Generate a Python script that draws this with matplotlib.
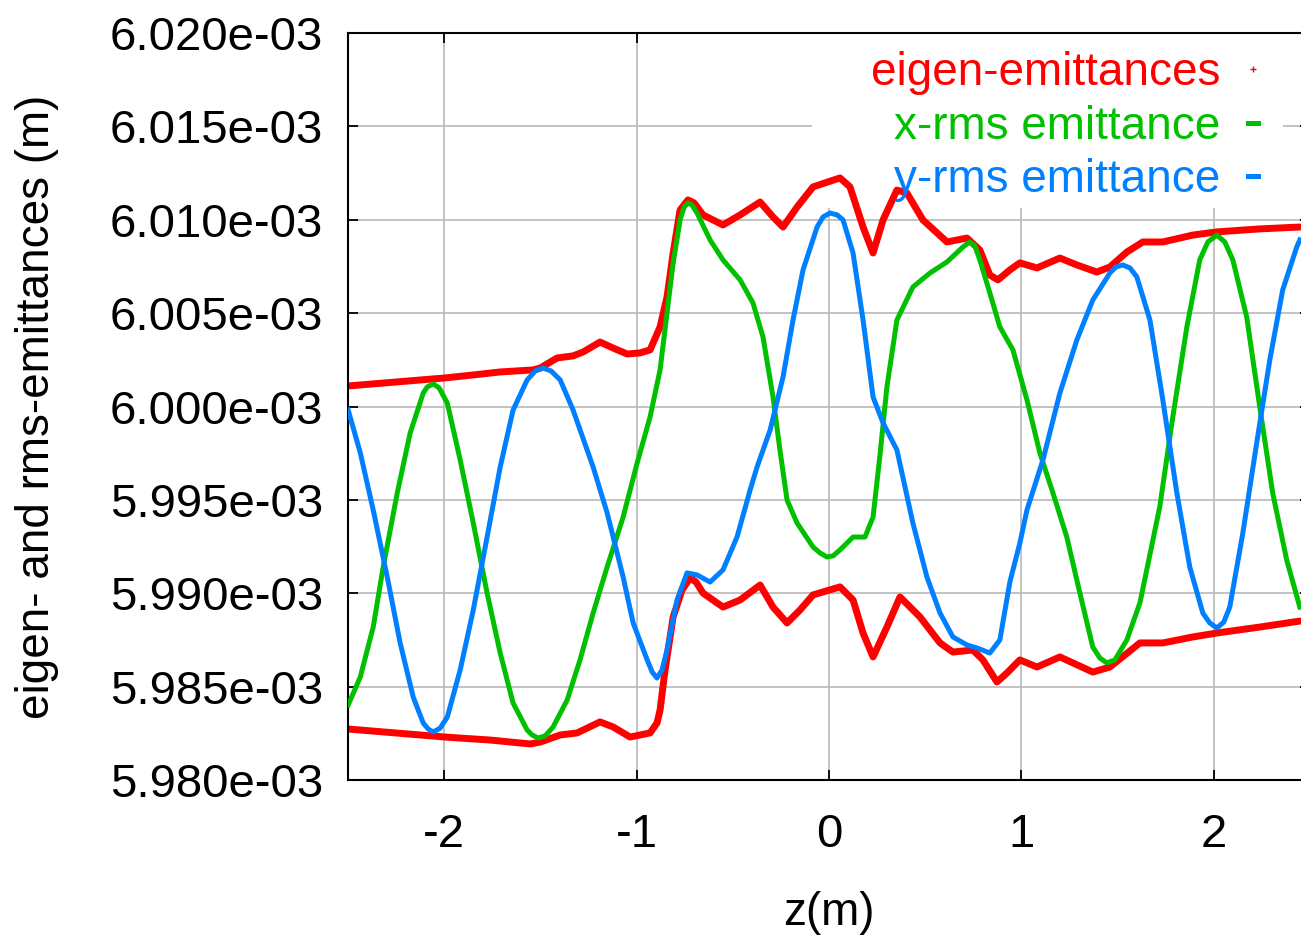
import numpy as np
import matplotlib
matplotlib.use("Agg")
import matplotlib.pyplot as plt
from matplotlib.lines import Line2D
from matplotlib.patches import Rectangle
from matplotlib.ticker import FormatStrFormatter

plt.rcParams['font.family'] = ['Liberation Sans', 'DejaVu Sans']
plt.rcParams['axes.unicode_minus'] = False

# ---- data (emittance values in units of 1e-3 m) ----
z_eig_hi = [-2.499, -1.995, -1.849, -1.709, -1.538, -1.501, -1.413, -1.330, -1.278, -1.190,
            -1.122, -1.049, -0.982, -0.930, -0.878, -0.842, -0.810, -0.774, -0.733, -0.701, -0.655,
            -0.551, -0.462, -0.358, -0.291, -0.239, -0.166, -0.083, 0.057, 0.109, 0.177,
            0.229, 0.281, 0.353, 0.405, 0.488, 0.613, 0.717, 0.784, 0.836, 0.878,
            0.940, 0.992, 1.081, 1.200, 1.288, 1.392, 1.460, 1.548, 1.631, 1.735,
            1.891, 2.016, 2.239, 2.447]
e_eig_hi = [6.00110, 6.00153, 6.00169, 6.00185, 6.00196, 6.00206, 6.00260, 6.00271, 6.00292, 6.00345,
            6.00313, 6.00281, 6.00287, 6.00303, 6.00426, 6.00586, 6.00822, 6.01052, 6.01106, 6.01090, 6.01026,
            6.00972, 6.01026, 6.01095, 6.01015, 6.00961, 6.01068, 6.01176, 6.01224, 6.01176, 6.00961,
            6.00822, 6.00999, 6.01159, 6.01143, 6.00999, 6.00881, 6.00902, 6.00838, 6.00704, 6.00678,
            6.00731, 6.00769, 6.00742, 6.00795, 6.00758, 6.00720, 6.00747, 6.00827, 6.00881, 6.00881,
            6.00918, 6.00935, 6.00951, 6.00961]

z_eig_lo = [-2.499, -1.995, -1.761, -1.553, -1.501, -1.397, -1.309, -1.190, -1.122, -1.034,
            -0.930, -0.894, -0.878, -0.852, -0.810, -0.764, -0.722, -0.691, -0.655, -0.551, -0.462,
            -0.358, -0.291, -0.218, -0.151, -0.083, 0.057, 0.125, 0.177, 0.229, 0.301,
            0.369, 0.473, 0.577, 0.644, 0.748, 0.800, 0.873, 0.925, 0.992, 1.081,
            1.200, 1.371, 1.460, 1.616, 1.735, 1.891, 2.016, 2.239, 2.447]
e_eig_lo = [5.98273, 5.98230, 5.98214, 5.98193, 5.98203, 5.98241, 5.98252, 5.98311, 5.98284, 5.98230,
            5.98252, 5.98305, 5.98375, 5.98589, 5.98873, 5.99017, 5.99082, 5.99060, 5.99001, 5.98926, 5.98964,
            5.99044, 5.98926, 5.98841, 5.98910, 5.98991, 5.99034, 5.98964, 5.98787, 5.98659, 5.98819,
            5.98980, 5.98873, 5.98734, 5.98685, 5.98696, 5.98643, 5.98525, 5.98573, 5.98643, 5.98605,
            5.98659, 5.98578, 5.98605, 5.98734, 5.98734, 5.98766, 5.98787, 5.98819, 5.98851]

z_x = [-2.499, -2.436, -2.369, -2.317, -2.244, -2.177, -2.109, -2.088, -2.057, -2.026, -1.984, -1.917,
       -1.849, -1.777, -1.709, -1.642, -1.569, -1.543, -1.512, -1.475, -1.434, -1.361, -1.294, -1.226,
       -1.153, -1.070, -0.997, -0.930, -0.878, -0.842, -0.810, -0.774, -0.753, -0.733, -0.712, -0.686,
       -0.618, -0.551, -0.462, -0.395, -0.343, -0.291, -0.255, -0.218, -0.166, -0.083,
       -0.047, -0.010, 0.021, 0.057, 0.125, 0.187, 0.229, 0.265, 0.301, 0.353, 0.436, 0.525,
       0.613, 0.696, 0.732, 0.758, 0.784, 0.836, 0.888, 0.956, 1.029, 1.096, 1.164,
       1.236, 1.304, 1.371, 1.408, 1.444, 1.486, 1.548, 1.616, 1.719, 1.787, 1.860, 1.927,
       1.969, 2.016, 2.057, 2.099, 2.171, 2.239, 2.306, 2.379, 2.447]
e_x = [5.98402, 5.98552, 5.98819, 5.99141, 5.99537, 5.99858, 6.00072, 6.00105, 6.00121, 6.00099, 6.00019, 5.99714,
       5.99376, 5.99001, 5.98680, 5.98412, 5.98268, 5.98241, 5.98225, 5.98236, 5.98284, 5.98428, 5.98643, 5.98894,
       5.99141, 5.99408, 5.99698, 5.99944, 6.00196, 6.00501, 6.00769, 6.00999, 6.01068, 6.01090, 6.01079, 6.01036,
       6.00892, 6.00785, 6.00678, 6.00554, 6.00372, 6.00051, 5.99767, 5.99499, 5.99376, 5.99248,
       5.99216, 5.99194, 5.99200, 5.99232, 5.99301, 5.99301, 5.99408, 5.99740, 6.00105, 6.00463, 6.00640, 6.00715,
       6.00774, 6.00854, 6.00881, 6.00860, 6.00785, 6.00608, 6.00426, 6.00303, 6.00035, 5.99751, 5.99537,
       5.99301, 5.99001, 5.98712, 5.98653, 5.98627, 5.98643, 5.98750, 5.98948, 5.99462, 5.99944, 6.00426, 6.00785,
       6.00881, 6.00918, 6.00881, 6.00785, 6.00479, 5.99997, 5.99537, 5.99178, 5.98926]

z_y = [-2.499, -2.436, -2.369, -2.296, -2.229, -2.161, -2.109, -2.083, -2.057, -2.021, -1.984, -1.917,
       -1.849, -1.777, -1.709, -1.642, -1.569, -1.527, -1.486, -1.444, -1.397, -1.330, -1.226, -1.153,
       -1.070, -1.018, -0.945, -0.919, -0.894, -0.868, -0.842, -0.790, -0.738, -0.686, -0.618, -0.551,
       -0.478, -0.410, -0.374, -0.306, -0.239, -0.187, -0.135, -0.062, -0.031, 0.005, 0.042, 0.073,
       0.125, 0.177, 0.229, 0.281, 0.353, 0.436, 0.509, 0.577, 0.644, 0.717,
       0.769, 0.836, 0.888, 0.940, 0.992, 1.029, 1.112, 1.200, 1.288, 1.371,
       1.460, 1.491, 1.527, 1.564, 1.600, 1.668, 1.735, 1.808, 1.875, 1.943, 1.979, 2.016, 2.052, 2.083,
       2.151, 2.223, 2.291, 2.358, 2.431, 2.447]
e_y = [5.99981, 5.99751, 5.99446, 5.99087, 5.98734, 5.98444, 5.98305, 5.98273, 5.98257, 5.98278, 5.98337, 5.98589,
       5.98910, 5.99301, 5.99676, 5.99981, 6.00142, 6.00190, 6.00206, 6.00190, 6.00142, 5.99981, 5.99676, 5.99430,
       5.99087, 5.98841, 5.98643, 5.98578, 5.98546, 5.98589, 5.98696, 5.98964, 5.99109, 5.99098, 5.99060, 5.99125,
       5.99301, 5.99553, 5.99676, 5.99874, 6.00158, 6.00463, 6.00731, 6.00961, 6.01015, 6.01036, 6.01026, 6.00999,
       6.00822, 6.00463, 6.00051, 5.99912, 5.99767, 5.99376, 5.99087, 5.98894, 5.98766, 5.98723,
       5.98707, 5.98680, 5.98750, 5.99060, 5.99269, 5.99446, 5.99714, 6.00072, 6.00356, 6.00570,
       6.00715, 6.00747, 6.00758, 6.00742, 6.00694, 6.00463, 6.00035, 5.99537, 5.99141, 5.98894, 5.98841, 5.98814, 5.98846, 5.98926,
       5.99323, 5.99805, 6.00249, 6.00624, 6.00854, 6.00892]

yticks = [5.980e-3, 5.985e-3, 5.990e-3, 5.995e-3, 6.000e-3, 6.005e-3, 6.010e-3, 6.015e-3, 6.020e-3]
xticks = [-2, -1, 0, 1, 2]
labels = ['eigen-emittances', 'x-rms emittance', 'y-rms emittance']

RED, GREEN, BLUE = '#ff0000', '#00c000', '#0080ff'
scale = 1e-3

fig = plt.figure(figsize=(13.01, 9.39), dpi=100)
ax = fig.add_axes([348/1301, 159/939, 962/1301, 747/939])

ax.plot(z_eig_hi, np.array(e_eig_hi)*scale, color=RED, lw=5, solid_capstyle='round',
        solid_joinstyle='round', zorder=2)
ax.plot(z_eig_lo, np.array(e_eig_lo)*scale, color=RED, lw=5, solid_capstyle='round',
        solid_joinstyle='round', zorder=2)
ax.plot(z_x, np.array(e_x)*scale, color=GREEN, lw=3.6, solid_joinstyle='round', zorder=3)
ax.plot(z_y, np.array(e_y)*scale, color=BLUE, lw=3.6, solid_joinstyle='round', zorder=4)

ax.set_xlim(-2.5, 2.5)
ax.set_ylim(5.980e-3, 6.020e-3)
ax.set_xticks(xticks)
ax.set_yticks(yticks)
ax.yaxis.set_major_formatter(FormatStrFormatter('%.3e'))

ax.set_axisbelow(True)
ax.grid(True, color='#bdbdbd', lw=1.3)
for s in ax.spines.values():
    s.set_linewidth(1.5)
ax.tick_params(direction='in', length=7, width=1.3, top=True, right=True,
               labelsize=34, colors='black')
ax.tick_params(axis='y', pad=18)
ax.tick_params(axis='x', pad=24)

ax.set_xlabel('z(m)', fontsize=33)
ax.set_ylabel('eigen- and rms-emittances (m)', fontsize=33)
ax.xaxis.set_label_coords(0.5, -0.148)
ax.yaxis.set_label_coords(-0.300, 0.5)

# white key area (hides grid, curves stay visible)
ax.add_patch(Rectangle((0.4823, 0.7657), 0.4896, 0.2343, transform=ax.transAxes,
                       facecolor='white', edgecolor='none', zorder=1.5))

handles = [Line2D([], [], color=RED, marker='+', ls='none', markersize=5, mew=1),
           Line2D([], [], color=GREEN, lw=3.6),
           Line2D([], [], color=BLUE, lw=3.6)]
leg = ax.legend(handles, labels, loc='upper right', bbox_to_anchor=(0.946, 0.9756),
                markerfirst=False, frameon=False, fontsize=33, handlelength=0.22,
                handletextpad=0.6, labelspacing=0.21, borderpad=0, borderaxespad=0,
                labelcolor='linecolor')
leg.set_zorder(5)

fig.savefig('out.png', dpi=100)
